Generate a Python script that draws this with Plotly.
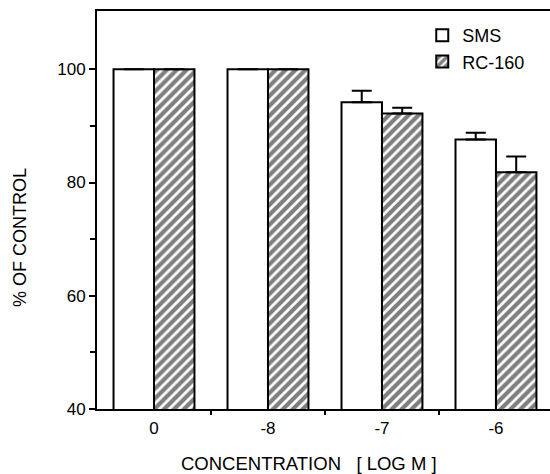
import plotly.graph_objects as go

categories = ["0", "-8", "-7", "-6"]
sms_values = [100.0, 100.0, 94.2, 87.6]
sms_errors = [0.0, 0.0, 2.0, 1.2]
rc_values = [100.0, 100.0, 92.2, 81.8]
rc_errors = [0.0, 0.0, 1.0, 2.8]
y_tick_vals = [40, 60, 80, 100]
y_minor_vals = [50, 70, 90]

xpos = list(range(len(categories)))
FONT = "Liberation Sans, Arial, Helvetica, sans-serif"

fig = go.Figure()
fig.add_trace(go.Bar(
    x=xpos, y=sms_values, name="SMS",
    marker=dict(color="white", line=dict(color="black", width=2)),
    error_y=dict(type="data", array=sms_errors, arrayminus=[0]*4, symmetric=False,
                 color="black", thickness=2, width=10),
))
fig.add_trace(go.Bar(
    x=xpos, y=rc_values, name="RC-160",
    marker=dict(color="white", line=dict(color="black", width=2),
                pattern=dict(shape="/", fgcolor="black", bgcolor="white",
                             size=7, solidity=0.6)),
    error_y=dict(type="data", array=rc_errors, arrayminus=[0]*4, symmetric=False,
                 color="black", thickness=2, width=10),
))

fig.update_layout(
    width=550, height=474,
    margin=dict(l=97, r=0, t=11, b=65),
    paper_bgcolor="white", plot_bgcolor="white",
    barmode="group", bargap=0.29, bargroupgap=0,
    font=dict(family=FONT, size=17, color="black"),
    showlegend=True,
    legend=dict(x=0.718, y=0.985, xanchor="left", yanchor="top",
                bgcolor="rgba(0,0,0,0)", borderwidth=0,
                font=dict(size=18), tracegroupgap=0),
    xaxis=dict(range=[-0.5, 3.474], tickvals=xpos, ticktext=categories,
               ticks="", showline=True, linecolor="black", linewidth=2,
               mirror=True, showgrid=False, zeroline=False,
               ticklabelstandoff=3,
               minor=dict(tickvals=[0.5, 1.5, 2.5], ticks="outside", ticklen=4,
                          tickwidth=2, tickcolor="black")),
    yaxis=dict(range=[40, 110.3], tickvals=y_tick_vals, ticks="outside",
               ticklen=6, tickwidth=2, tickcolor="black",
               showline=True, linecolor="black", linewidth=2,
               showgrid=False, zeroline=False,
               minor=dict(tickvals=y_minor_vals, ticks="outside", ticklen=5,
                          tickwidth=2, tickcolor="black")),
    annotations=[
        dict(text="CONCENTRATION   [ LOG M ]", xref="paper", yref="paper",
             x=0.469, y=-0.137, xanchor="center", yanchor="middle",
             showarrow=False, font=dict(size=18.5)),
        dict(text="% OF CONTROL", xref="paper", yref="paper",
             x=-0.17, y=0.432, xanchor="center", yanchor="middle",
             textangle=-90, showarrow=False, font=dict(size=18)),
    ],
)

fig.write_html("out.html")
